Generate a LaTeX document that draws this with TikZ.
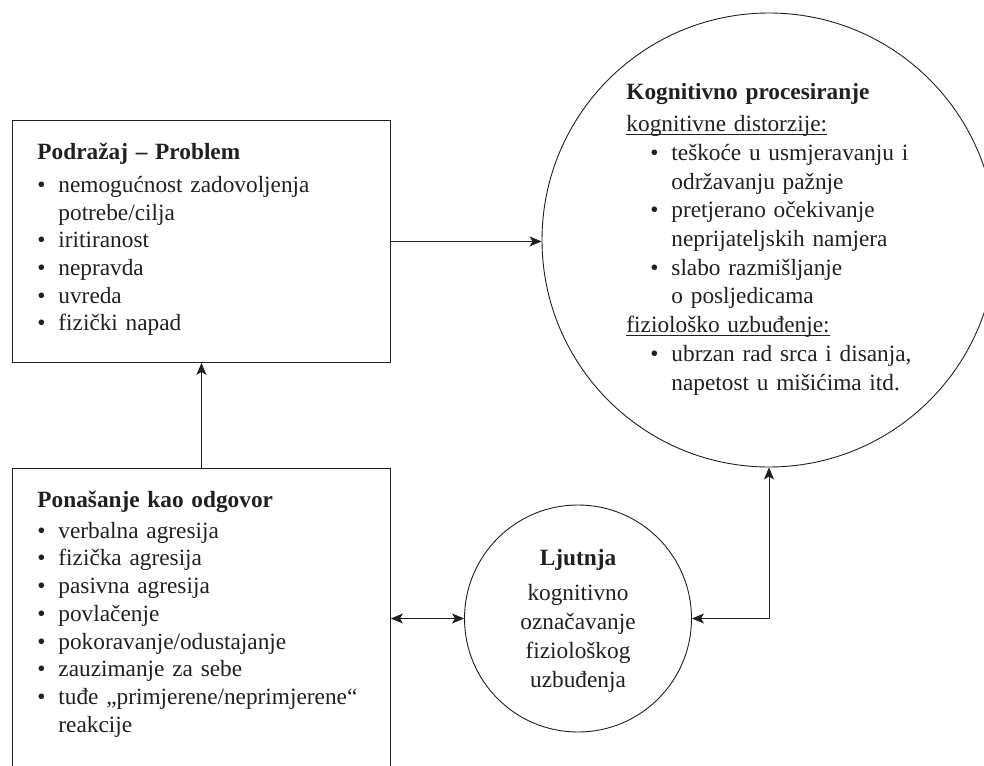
\documentclass[tikz,border=0pt]{standalone}
\usepackage{fontspec}
\setmainfont{Liberation Serif}
\usetikzlibrary{arrows.meta}
\definecolor{ink}{RGB}{35,31,32}
\newsavebox\myulbox
\newcommand\myul[1]{\leavevmode\sbox\myulbox{#1}\rlap{\rule[-3.5pt]{\wd\myulbox}{0.8pt}}\usebox\myulbox}
\newcommand\bul{\makebox[21pt][l]{\textbullet}}
\newcommand\cont{\hspace*{21pt}}
\begin{document}
\begin{tikzpicture}[x=1pt,y=-1pt,line width=0.9pt,draw=ink,color=ink,
  >={Stealth[length=12pt,width=10pt,inset=3pt]},
  txt/.style={inner sep=0pt,anchor=base west,text width=#1,align=left,
    font=\fontsize{23.3}{27.7}\selectfont},
  ctxt/.style={inner sep=0pt,anchor=base,text width=#1,align=center,
    font=\fontsize{23.3}{29}\selectfont},
  boxnode/.style={draw,rectangle,inner sep=0pt,anchor=north west,minimum width=378pt},
  circnode/.style={draw,circle,inner sep=0pt}]
\useasboundingbox (0,0) rectangle (984,765);
\fill[white] (0,0) rectangle (984,765);
\clip (0,0) rectangle (984,765);

% shapes
\node[boxnode,minimum height=242pt] (prob) at (12,120) {};
\node[boxnode,minimum height=332pt] (resp) at (12,468) {};
\node[circnode,minimum size=454pt] (kog) at (769,240) {};
\node[circnode,minimum size=227pt] (ljut) at (578,618.5) {};

% texts
\node[txt=340pt] (probtxt) at (37,159) {%
{\bfseries Podražaj – Problem}\\[5.7pt]
\bul nemogućnost zadovoljenja\\
\cont potrebe/cilja\\
\bul iritiranost\\
\bul nepravda\\
\bul uvreda\\
\bul fizički napad};

\node[txt=345pt] (resptxt) at (37,507.5) {%
{\bfseries Ponašanje kao odgovor}\\[3pt]
\bul verbalna agresija\\
\bul fizička agresija\\
\bul pasivna agresija\\
\bul povlačenje\\
\bul pokoravanje/odustajanje\\
\bul zauzimanje za sebe\\
\bul tuđe „primjerene/neprimjerene“\\
\cont reakcije};

\node[txt=360pt,font=\fontsize{23.3}{28.7}\selectfont] (kogtxt) at (626,100) {%
{\bfseries Kognitivno procesiranje}\\[3pt]
\myul{kognitivne distorzije:}\\
\hspace*{24pt}\bul teškoće u usmjeravanju i\\
\hspace*{24pt}\cont održavanju pažnje\\
\hspace*{24pt}\bul pretjerano očekivanje\\
\hspace*{24pt}\cont neprijateljskih namjera\\
\hspace*{24pt}\bul slabo razmišljanje\\
\hspace*{24pt}\cont o posljedicama\\
\myul{fiziološko uzbuđenje:}\\
\hspace*{24pt}\bul ubrzan rad srca i disanja,\\
\hspace*{24pt}\cont napetost u mišićima itd.};

\node[ctxt=200pt] (ljuttxt) at (578,565) {%
{\bfseries Ljutnja}\\[6pt]
kognitivno\\
označavanje\\
fiziološkog\\
uzbuđenja};

% connectors
\draw[->] (prob.east) -- (prob.east -| kog.west);
\draw[->] (resp.north) -- (prob.south);
\draw[<->] (ljut.west -| resp.east) -- (ljut.west);
\draw[<->] (ljut.east) -| (kog.south);
\end{tikzpicture}
\end{document}
